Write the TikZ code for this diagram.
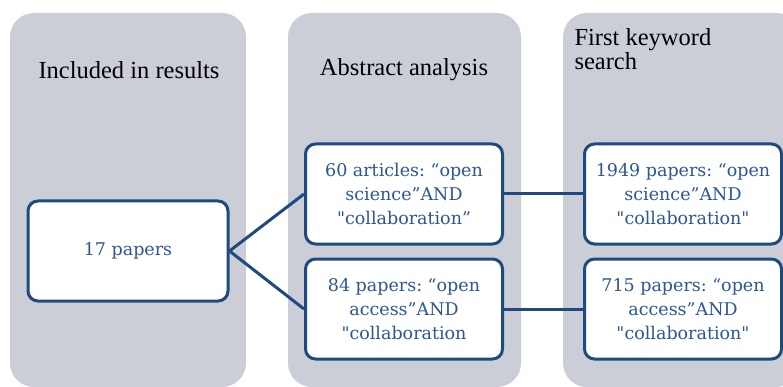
\documentclass[tikz,border=0pt]{standalone}
\usepackage{fontspec}
\setmainfont{Liberation Serif}[Ligatures=TeXOff]
\newfontfamily\boxfont{DejaVu Serif}[Ligatures=TeXOff]
\usepackage{xcolor}
\usetikzlibrary{positioning}

\definecolor{colgray}{HTML}{CBCED7}
\definecolor{boxblue}{HTML}{1F4A80}
\definecolor{txtblue}{HTML}{2C5790}

\tikzset{
    column/.style={fill=colgray, draw=none, rounded corners=24pt},
    heading/.style={font=\fontsize{24.5}{24}\selectfont, text=black},
    paperbox/.style={draw=boxblue, line width=3pt, fill=white, rounded corners=10pt,
        minimum width=197pt, minimum height=100pt, align=center,
        text=txtblue, font=\boxfont\fontsize{17.5}{24}\selectfont, inner sep=0pt},
    link/.style={draw=boxblue, line width=3pt}
}

\begin{document}
\frenchspacing
\begin{tikzpicture}[x=1pt, y=-1pt]
    \useasboundingbox (0,0) rectangle (783,387);
    \fill[white] (0,0) rectangle (783,387);

    % Column backgrounds
    \begin{scope}
        \clip (0,0) rectangle (783,387);
        \path[column] (10,13) rectangle (246,387);
        \path[column] (288,13) rectangle (521,387);
        \path[column] (563,13) rectangle (800,387);
    \end{scope}

    % Headings
    \node[heading] (incl) at (129,70) {Included in results};
    \node[heading] (abstr) at (404,70) {Abstract analysis};
    \node[heading, align=left, anchor=north west] (first) at (571,25) {First keyword\\search};

    % Boxes
    \node[paperbox, minimum width=200pt] (res) at (128,251) {17 papers};
    \node[paperbox] (sci) at (404,194) {60 articles: “open\\science”AND\\"collaboration”};
    \node[paperbox] (acc) at (404,309) {84 papers: “open\\access”AND\\"collaboration};
    \node[paperbox] (sciall) at (683,194) {1949 papers: “open\\science”AND\\"collaboration"};
    \node[paperbox] (accall) at (683,309) {715 papers: “open\\access”AND\\"collaboration"};

    % Links
    \draw[link] (res.east) -- (sci.west);
    \draw[link] (res.east) -- (acc.west);
    \draw[link] (sci.east) -- (sciall.west);
    \draw[link] (acc.east) -- (accall.west);
\end{tikzpicture}
\end{document}
